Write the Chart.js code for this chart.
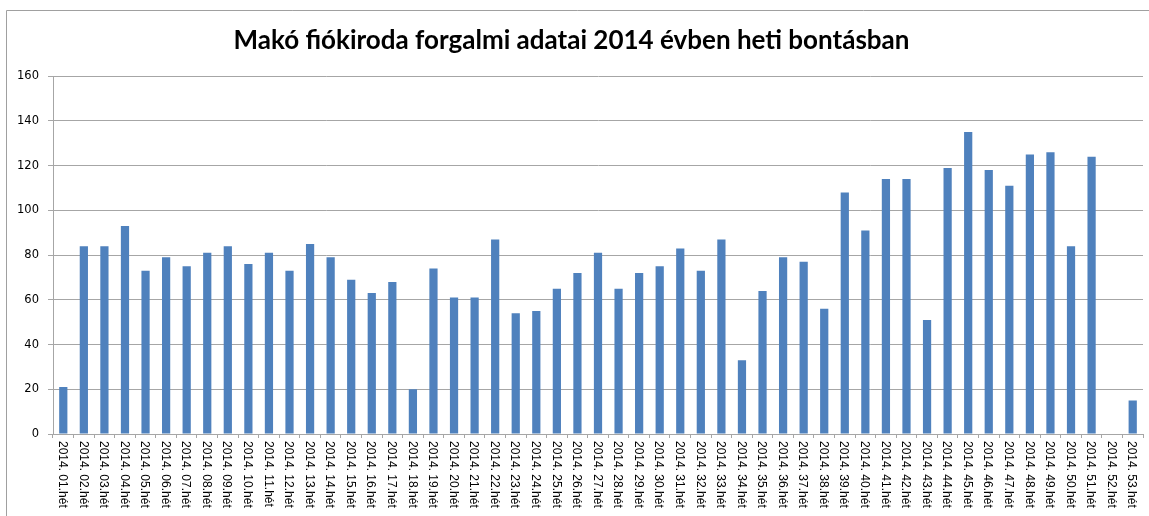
<!DOCTYPE html>
<html>
<head>
<meta charset="utf-8">
<script src="https://cdn.jsdelivr.net/npm/chart.js@4"></script>
<style>
  html, body { margin: 0; padding: 0; background: #fff; }
  #wrap { width: 1149px; height: 516px; }
</style>
</head>
<body>
<div id="wrap"><canvas id="chart" width="1149" height="516"></canvas></div>
<script>
// weekly figures of the Makó branch, 2014
const weekLabels = [
  '2014. 01.hét', '2014. 02.hét', '2014. 03.hét', '2014. 04.hét', '2014. 05.hét', '2014. 06.hét',
  '2014. 07.hét', '2014. 08.hét', '2014. 09.hét', '2014. 10.hét', '2014. 11.hét', '2014. 12.hét',
  '2014. 13.hét', '2014. 14.hét', '2014. 15.hét', '2014. 16.hét', '2014. 17.hét', '2014. 18.hét',
  '2014. 19.hét', '2014. 20.hét', '2014. 21.hét', '2014. 22.hét', '2014. 23.hét', '2014. 24.hét',
  '2014. 25.hét', '2014. 26.hét', '2014. 27.hét', '2014. 28.hét', '2014. 29.hét', '2014. 30.hét',
  '2014. 31.hét', '2014. 32.hét', '2014. 33.hét', '2014. 34.hét', '2014. 35.hét', '2014. 36.hét',
  '2014. 37.hét', '2014. 38.hét', '2014. 39.hét', '2014. 40.hét', '2014. 41.hét', '2014. 42.hét',
  '2014. 43.hét', '2014. 44.hét', '2014. 45.hét', '2014. 46.hét', '2014. 47.hét', '2014. 48.hét',
  '2014. 49.hét', '2014. 50.hét', '2014. 51.hét', '2014. 52.hét', '2014. 53.hét'
];
const weeklyTraffic = [
  21, 84, 84, 93, 73, 79, 75, 81, 84, 76, 81, 73,
  85, 79, 69, 63, 68, 20, 74, 61, 61, 87, 54, 55,
  65, 72, 81, 65, 72, 75, 83, 73, 87, 33, 64, 79,
  77, 56, 108, 91, 114, 114, 51, 119, 135, 118, 111, 125,
  126, 84, 124, 0, 15
];
const yTicks = [0, 20, 40, 60, 80, 100, 120, 140, 160];

const chartTitle = 'Makó fiókiroda forgalmi adatai 2014 évben heti bontásban';
const gridGray = '#a6a6a6';

// chart frame like the spreadsheet chart border
const framePlugin = {
  id: 'frame',
  beforeDraw(chart) {
    const ctx = chart.ctx;
    ctx.save();
    ctx.fillStyle = '#fff';
    ctx.fillRect(0, 0, chart.width, chart.height);
    ctx.strokeStyle = '#a0a0a0';
    ctx.lineWidth = 1;
    ctx.beginPath();
    ctx.moveTo(6.5, chart.height);
    ctx.lineTo(6.5, 10.5);
    ctx.lineTo(chart.width, 10.5);
    ctx.stroke();
    ctx.restore();
  }
};

// x labels read top to bottom, so draw them here
const xLabelPlugin = {
  id: 'xLabels',
  afterDraw(chart) {
    const ctx = chart.ctx;
    const xs = chart.scales.x;
    ctx.save();
    ctx.fillStyle = '#000';
    ctx.font = '12px "Liberation Sans"';
    ctx.textAlign = 'left';
    ctx.textBaseline = 'middle';
    chart.data.labels.forEach((lbl, i) => {
      const x = xs.getPixelForValue(i) - 1;
      ctx.save();
      ctx.translate(x, xs.top + 7);
      ctx.rotate(Math.PI / 2);
      ctx.fillText(lbl, 0, 0);
      ctx.restore();
    });
    ctx.restore();
  }
};

new Chart(document.getElementById('chart'), {
  type: 'bar',
  data: {
    labels: weekLabels,
    datasets: [{
      data: weeklyTraffic,
      backgroundColor: '#4f81bd',
      barPercentage: 0.4,
      categoryPercentage: 1
    }]
  },
  options: {
    responsive: false,
    animation: false,
    layout: { padding: { left: 0, right: 6, top: 0, bottom: 0 } },
    plugins: {
      legend: { display: false },
      tooltip: { enabled: false },
      title: {
        display: true,
        text: chartTitle,
        color: '#000',
        font: { family: 'Lato', size: 26, weight: 'bold', lineHeight: 1.2 },
        padding: { top: 25, bottom: 20 }
      }
    },
    scales: {
      x: {
        ticks: { display: false },
        grid: { drawOnChartArea: false, color: gridGray, tickLength: 4, offset: true },
        border: { color: gridGray },
        afterFit(scale) { scale.height = 82; }
      },
      y: {
        min: 0,
        max: 160,
        afterBuildTicks(scale) { scale.ticks = yTicks.map(v => ({ value: v })); },
        ticks: {
          color: '#000',
          padding: 9,
          font: { family: 'DejaVu Sans', size: 11.5 }
        },
        grid: { color: gridGray, tickLength: 5 },
        border: { color: gridGray },
        afterFit(scale) { scale.width = 53; }
      }
    }
  },
  plugins: [framePlugin, xLabelPlugin]
});
</script>
</body>
</html>
